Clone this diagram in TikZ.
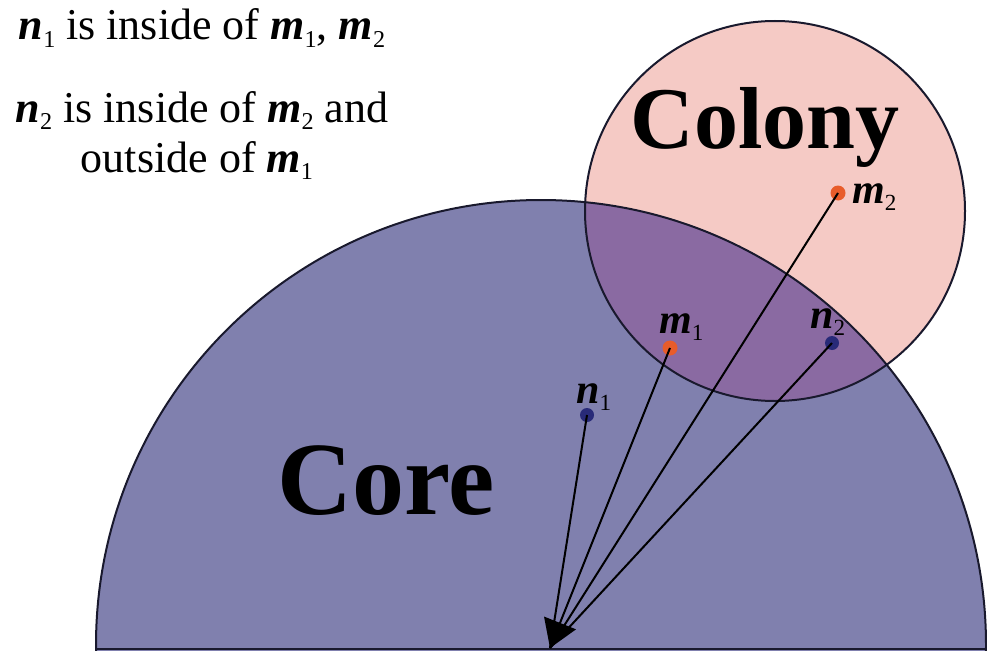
\documentclass[tikz,border=0pt]{standalone}
\usepackage{fontspec}
\setmainfont{Liberation Serif}
\usetikzlibrary{arrows.meta}
\definecolor{corefill}{RGB}{128,128,174}
\definecolor{colfill}{RGB}{245,202,197}
\definecolor{overfill}{RGB}{138,106,162}
\definecolor{mdotc}{RGB}{232,92,42}
\definecolor{ndotc}{RGB}{40,42,120}
\definecolor{edgec}{RGB}{25,25,45}
\newcommand{\vsub}[1]{\raisebox{-0.18em}{\scalebox{0.55}{#1}}}
\newcommand{\vm}[1]{\textbf{\textit{m}}\vsub{#1}}
\newcommand{\vn}[1]{\textbf{\textit{n}}\vsub{#1}}
\tikzset{
  mdot/.style={circle,fill=mdotc,inner sep=0pt,minimum size=15pt},
  ndot/.style={circle,fill=ndotc,inner sep=0pt,minimum size=14pt},
  conn/.style={line width=2pt,black},
  lbl/.style={inner sep=0pt,font=\fontsize{42}{46}\selectfont},
  toptext/.style={inner sep=0pt,anchor=base,font=\fontsize{44}{50}\selectfont},
  edge/.style={draw=edgec,line width=2pt}
}
\begin{document}
\begin{tikzpicture}[x=1pt,y=-1pt]
\clip (0,0) rectangle (987,650);
\fill[white] (0,0) rectangle (987,650);
% core and colony fills
\fill[corefill] (541,645) circle (445pt);
\fill[colfill] (775,211) circle (190pt);
\begin{scope}
  \clip (541,645) circle (445pt);
  \fill[overfill] (775,211) circle (190pt);
\end{scope}
% outlines
\draw[edge] (541,645) circle (445pt);
\draw[edge] (775,211) circle (190pt);
\draw[edge] (97,649) -- (987,649);
% titles
\node[inner sep=0pt,anchor=base,font=\fontsize{88}{92}\selectfont\bfseries] (colony) at (765,148) {Colony};
\node[inner sep=0pt,anchor=base,font=\fontsize{104}{110}\selectfont\bfseries] (core) at (386,514) {Core};
% text
\node[toptext] (t1) at (202,40) {\vn{1} is inside of \vm{1}, \vm{2}};
\node[toptext] (t2) at (202,122) {\vn{2} is inside of \vm{2} and};
\node[toptext] (t3) at (197,172) {outside of \vm{1}};
% points
\coordinate (apex) at (550,648);
\node[mdot] (m2) at (838,193) {};
\node[mdot] (m1) at (670,348) {};
\node[ndot] (n2) at (832,343) {};
\node[ndot] (n1) at (587,415) {};
% connectors
\draw[conn] (n1.center) -- (apex);
\draw[conn] (m2.center) -- (apex);
\draw[conn] (n2.center) -- (apex);
\draw[conn,-{Triangle[length=27pt,width=34pt]}] (m1.center) -- (apex);
% labels
\node[lbl,anchor=base west] (lm2) at (852,203) {\vm{2}};
\node[lbl,anchor=base west] (lm1) at (659,333) {\vm{1}};
\node[lbl,anchor=base west] (ln2) at (810,328) {\vn{2}};
\node[lbl,anchor=base west] (ln1) at (576,403) {\vn{1}};
\end{tikzpicture}
\end{document}
